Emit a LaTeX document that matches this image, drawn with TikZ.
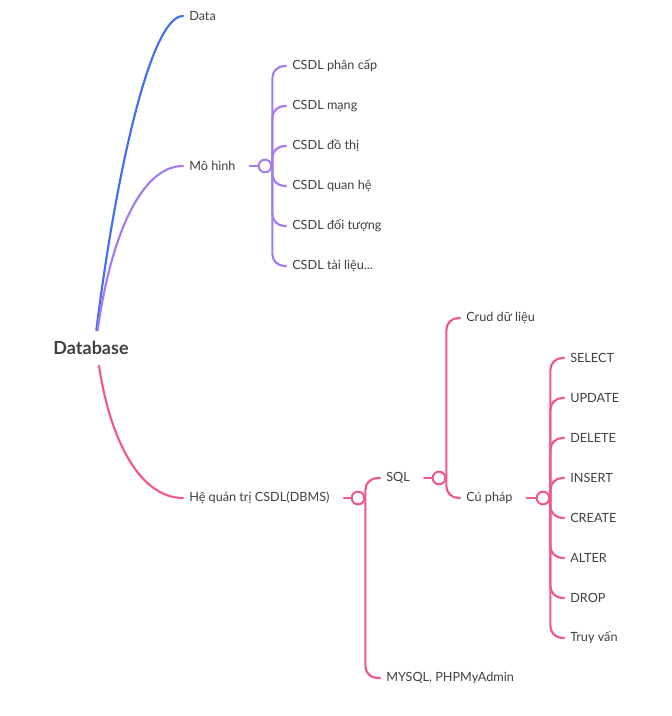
\documentclass[tikz,border=0pt]{standalone}
\usepackage{fontspec}
\setmainfont{Lato}
\definecolor{mapblue}{RGB}{64, 110, 244}
\definecolor{mappurple}{RGB}{163, 122, 240}
\definecolor{mappink}{RGB}{243, 86, 136}
\definecolor{textgray}{RGB}{64, 64, 64}
\usepackage{tikz}

\begin{document}
\begin{tikzpicture}[
        x=0.75pt, y=-0.75pt,
        topic/.style={font=\fontsize{9.5}{11}\selectfont, text=textgray, inner xsep=4.5pt, inner ysep=2pt, anchor=west},
        root/.style={font=\fontsize{13.5}{15}\selectfont\bfseries, text=textgray, inner xsep=3pt, inner ysep=8pt},
        hub/.style={circle, draw, fill=white, line width=1.5pt, minimum size=9.5pt, inner sep=0pt},
        link/.style={line width=1.6pt, line cap=round},
        branch/.style={link, rounded corners=9pt}
    ]
        \useasboundingbox (0,0) rectangle (671,716);

        % Root
        \node[root] (db) at (91,348) {Database};

        % Data / Mo hinh Side
        \node[topic] (data) at (183,16) {Data};
        \node[topic] (mohinh) at (183,166) {Mô hình};
        \node[hub, draw=mappurple] (hubmh) at (265,166) {};
        \node[topic] (phancap) at (286,66) {CSDL phân cấp};
        \node[topic] (mang) at (286,106) {CSDL mạng};
        \node[topic] (dothi) at (286,146) {CSDL đồ thị};
        \node[topic] (quanhe) at (286,186) {CSDL quan hệ};
        \node[topic] (doituong) at (286,226) {CSDL đối tượng};
        \node[topic] (tailieu) at (286,266) {CSDL tài liệu...};

        % DBMS Side
        \node[topic] (dbms) at (183,498) {Hệ quản trị CSDL(DBMS)};
        \node[hub, draw=mappink] (hubdbms) at (358,498) {};
        \node[topic] (sql) at (380,478) {SQL};
        \node[topic] (mysql) at (380,678) {MYSQL, PHPMyAdmin};
        \node[hub, draw=mappink] (hubsql) at (439,478) {};
        \node[topic] (crud) at (460,318) {Crud dữ liệu};
        \node[topic] (cuphap) at (460,498) {Cú pháp};
        \node[hub, draw=mappink] (hubcp) at (543,498) {};
        \node[topic] (select) at (564,358) {SELECT};
        \node[topic] (update) at (564,398) {UPDATE};
        \node[topic] (delete) at (564,438) {DELETE};
        \node[topic] (insert) at (564,478) {INSERT};
        \node[topic] (create) at (564,518) {CREATE};
        \node[topic] (alter) at (564,558) {ALTER};
        \node[topic] (drop) at (564,598) {DROP};
        \node[topic] (truyvan) at (564,638) {Truy vấn};

        % Root links
        \draw[link, mapblue] ([xshift=4pt]db.north) .. controls (115,180) and (150,16) .. (data.west);
        \draw[link, mappurple] ([xshift=5pt]db.north) .. controls (110,240) and (140,166) .. (mohinh.west);
        \draw[link, mappink] ([xshift=6pt]db.south) .. controls (110,440) and (140,498) .. (dbms.west);

        % Mo hinh links
        \draw[link, mappurple] ([xshift=6pt]mohinh.east) -- (hubmh.west);
        \draw[branch, mappurple] (hubmh.east) |- (phancap.west);
        \draw[branch, mappurple] (hubmh.east) |- (mang.west);
        \draw[branch, mappurple] (hubmh.east) |- (dothi.west);
        \draw[branch, mappurple] (hubmh.east) |- (quanhe.west);
        \draw[branch, mappurple] (hubmh.east) |- (doituong.west);
        \draw[branch, mappurple] (hubmh.east) |- (tailieu.west);

        % DBMS links
        \draw[link, mappink] ([xshift=6pt]dbms.east) -- (hubdbms.west);
        \draw[branch, mappink] (hubdbms.east) |- (sql.west);
        \draw[branch, mappink] (hubdbms.east) |- (mysql.west);
        \draw[link, mappink] ([xshift=6pt]sql.east) -- (hubsql.west);
        \draw[branch, mappink] (hubsql.east) |- (crud.west);
        \draw[branch, mappink] (hubsql.east) |- (cuphap.west);
        \draw[link, mappink] ([xshift=6pt]cuphap.east) -- (hubcp.west);
        \draw[branch, mappink] (hubcp.east) |- (select.west);
        \draw[branch, mappink] (hubcp.east) |- (update.west);
        \draw[branch, mappink] (hubcp.east) |- (delete.west);
        \draw[branch, mappink] (hubcp.east) |- (insert.west);
        \draw[branch, mappink] (hubcp.east) |- (create.west);
        \draw[branch, mappink] (hubcp.east) |- (alter.west);
        \draw[branch, mappink] (hubcp.east) |- (drop.west);
        \draw[branch, mappink] (hubcp.east) |- (truyvan.west);
    \end{tikzpicture}
\end{document}
